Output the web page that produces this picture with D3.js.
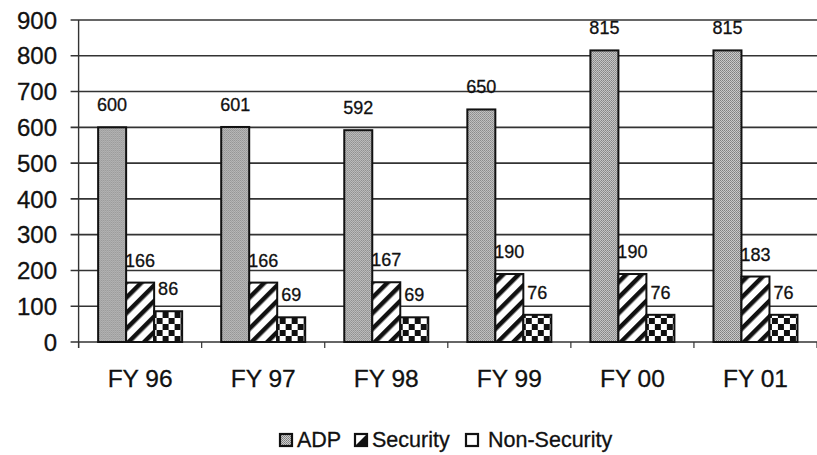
<!DOCTYPE html>
<html><head><meta charset="utf-8">
<script src="https://cdn.jsdelivr.net/npm/d3@7"></script>
<style>body{margin:0;background:#fff}svg{display:block}text{font-family:"Liberation Sans",Arial,sans-serif;fill:#111;stroke:#111;stroke-width:0.3}</style>
</head><body><svg id="c" width="817" height="455"></svg>
<script>
const categories = ["FY 96","FY 97","FY 98","FY 99","FY 00","FY 01"];
const seriesNames = ["ADP","Security","Non-Security"];
const adp = [600,601,592,650,815,815];
const security = [166,166,167,190,190,183];
const nonSecurity = [86,69,69,76,76,76];
const yTicks = [0,100,200,300,400,500,600,700,800,900];

const svg = d3.select("#c");
const defs = svg.append("defs");
const p1 = defs.append("pattern").attr("id","pADP").attr("width",2).attr("height",2).attr("patternUnits","userSpaceOnUse");
p1.append("rect").attr("width",2).attr("height",2).attr("fill","#cfcfcf");
p1.append("rect").attr("width",1).attr("height",1).attr("fill","#7a7a7a");
p1.append("rect").attr("x",1).attr("y",1).attr("width",1).attr("height",1).attr("fill","#8a8a8a");
const p2 = defs.append("pattern").attr("id","pSec").attr("width",11).attr("height",11).attr("patternUnits","userSpaceOnUse").attr("patternTransform","rotate(45)");
p2.append("rect").attr("width",11).attr("height",11).attr("fill","#fff");
p2.append("rect").attr("width",4.5).attr("height",11).attr("fill","#111");
const p3 = defs.append("pattern").attr("id","pNon").attr("width",12).attr("height",12).attr("patternUnits","userSpaceOnUse");
p3.append("rect").attr("width",12).attr("height",12).attr("fill","#fff");
p3.append("rect").attr("width",6).attr("height",6).attr("fill","#111");
p3.append("rect").attr("x",6).attr("y",6).attr("width",6).attr("height",6).attr("fill","#111");
const fills = ["url(#pADP)","url(#pSec)","url(#pNon)"];

const mLeft = 78.6, mRight = 817, mTop = 20, mBottom = 342;
const x = d3.scaleBand().domain(categories).range([mLeft, mRight]).padding(0);
const gw = 84;
const xs = d3.scaleBand().domain(seriesNames).range([(x.bandwidth()-gw)/2, (x.bandwidth()+gw)/2]);
const y = d3.scaleLinear().domain([0,900]).range([mBottom, mTop]);

svg.append("g").selectAll("line").data(yTicks).join("line")
  .attr("x1", mLeft-8).attr("x2", mRight).attr("y1", d=>y(d)).attr("y2", d=>y(d))
  .attr("stroke","#333").attr("stroke-width",1.6);
svg.append("line").attr("x1",mLeft).attr("x2",mLeft).attr("y1",mTop).attr("y2",mBottom+6).attr("stroke","#333").attr("stroke-width",1.4);
svg.append("g").selectAll("text").data(yTicks).join("text")
  .attr("x", 57).attr("y", d=>y(d)).attr("dy","0.36em").attr("text-anchor","end")
  .attr("font-size",24).text(d=>d);
const bounds = categories.map(c=>x(c)).concat([mRight]);
svg.append("g").selectAll("line").data(bounds).join("line")
  .attr("x1",d=>d).attr("x2",d=>d).attr("y1",mBottom).attr("y2",mBottom+6).attr("stroke","#333").attr("stroke-width",1.2);
svg.append("g").selectAll("text").data(categories).join("text")
  .attr("x", d=>x(d)+x.bandwidth()/2).attr("y", 387).attr("text-anchor","middle")
  .attr("font-size",24.5).text(d=>d);

const data = categories.map((c,i)=>({c, vals:[adp[i],security[i],nonSecurity[i]]}));
const groups = svg.append("g").selectAll("g").data(data).join("g").attr("transform", d=>`translate(${x(d.c)},0)`);
groups.selectAll("rect").data(d=>d.vals.map((v,j)=>({v,j}))).join("rect")
  .attr("x", d=>xs(seriesNames[d.j])).attr("width", xs.bandwidth())
  .attr("y", d=>y(d.v)).attr("height", d=>y(0)-y(d.v))
  .attr("fill", d=>fills[d.j]).attr("stroke","#111").attr("stroke-width",2);
groups.selectAll("text").data(d=>d.vals.map((v,j)=>({v,j}))).join("text")
  .attr("x", d=>xs(seriesNames[d.j])+xs.bandwidth()/2).attr("y", d=>y(d.v)-16)
  .attr("text-anchor","middle").attr("font-size",18).attr("stroke-width",0.15).text(d=>d.v);

const legSq = [280, 355, 466];
const legTx = [297, 372, 488];
const lg = svg.append("g");
seriesNames.forEach((n,i)=>{
  lg.append("rect").attr("x",legSq[i]).attr("y",434).attr("width",12).attr("height",12)
    .attr("fill", i===0?fills[0]:"#fff").attr("stroke","#111").attr("stroke-width",2.2);
  if(i===1){ lg.append("path").attr("d",`M${legSq[i]},${446} L${legSq[i]+12},${434} L${legSq[i]+12},${446} Z`).attr("fill","#111"); }
  lg.append("text").attr("x",legTx[i]).attr("y",447).attr("font-size",21.5).text(n);
});
</script></body></html>
